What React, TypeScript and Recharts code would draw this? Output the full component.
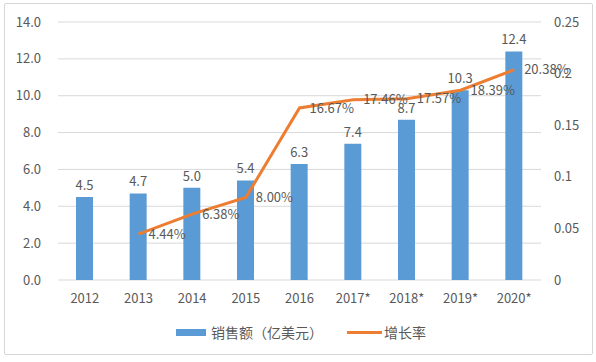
import React from 'react';
import { ComposedChart, Bar, Line, XAxis, YAxis, CartesianGrid, LabelList, Legend } from 'recharts';

const categories = ['2012', '2013', '2014', '2015', '2016', '2017*', '2018*', '2019*', '2020*'];
const sales = [4.5, 4.7, 5.0, 5.4, 6.3, 7.4, 8.7, 10.3, 12.4];
const growth: (number | null)[] = [null, 0.0444, 0.0638, 0.08, 0.1667, 0.1746, 0.1757, 0.1839, 0.2038];
const leftTicks = [0, 2, 4, 6, 8, 10, 12, 14];
const rightTicks = [0, 0.05, 0.1, 0.15, 0.2, 0.25];
const seriesNames = ['销售额（亿美元）', '增长率'];

const data = categories.map((c, i) => ({ year: c, sales: sales[i], growth: growth[i] }));

const BLUE = '#5B9BD5';
const ORANGE = '#ED7D31';
const TEXT = '#595959';

const LegendContent = () => (
  <div style={{ display: 'flex', justifyContent: 'center', alignItems: 'center', fontSize: 14, color: TEXT, paddingLeft: 6 }}>
    <div style={{ display: 'flex', alignItems: 'center', marginRight: 24 }}>
      <div style={{ width: 30, height: 7, background: BLUE, marginRight: 5 }} />
      <span>{seriesNames[0]}</span>
    </div>
    <div style={{ display: 'flex', alignItems: 'center' }}>
      <div style={{ width: 35, height: 3, background: ORANGE, marginRight: 2 }} />
      <span>{seriesNames[1]}</span>
    </div>
  </div>
);

export default function App() {
  return (
    <div style={{ position: 'absolute', left: 0, top: 0, width: 596, height: 362, background: '#fff', fontFamily: '"Noto Sans CJK SC", "Noto Sans", sans-serif' }}>
      <div style={{ position: 'absolute', left: 4, top: 3, width: 587, height: 350, border: '1px solid #d6d6d6', borderRadius: 2 }} />
      <ComposedChart width={596} height={362} data={data} margin={{ top: 22, right: 0, bottom: 52, left: 0 }}>
        <CartesianGrid yAxisId="left" vertical={false} stroke="#d9d9d9" strokeWidth={1} />
        <XAxis dataKey="year" axisLine={false} tickLine={false} interval={0} height={30} tickMargin={8} tick={{ fill: TEXT, fontSize: 13 }} />
        <YAxis yAxisId="left" width={58} domain={[0, 14]} ticks={leftTicks} axisLine={false} tickLine={false} tickMargin={11} tick={{ fill: TEXT, fontSize: 13 }} tickFormatter={(v: number) => v.toFixed(1)} />
        <YAxis yAxisId="right" orientation="right" width={55} domain={[0, 0.25]} ticks={rightTicks} axisLine={false} tickLine={false} tickMargin={7} tick={{ fill: TEXT, fontSize: 13 }} tickFormatter={(v: number) => String(v)} />
        <Bar yAxisId="left" dataKey="sales" fill={BLUE} barSize={17} isAnimationActive={false}>
          <LabelList dataKey="sales" position="top" offset={7} fill={TEXT} fontSize={13} formatter={(v: any) => (v == null ? '' : Number(v).toFixed(1))} />
        </Bar>
        <Line yAxisId="right" dataKey="growth" stroke={ORANGE} strokeWidth={3} dot={false} activeDot={false} isAnimationActive={false}>
          <LabelList dataKey="growth" position="right" offset={10} fill={TEXT} fontSize={13} formatter={(v: any) => (v == null ? '' : (Number(v) * 100).toFixed(2) + '%')} />
        </Line>
        <Legend verticalAlign="middle" layout="horizontal" content={<LegendContent />} wrapperStyle={{ top: 322, left: 0, width: 596, height: 22 }} />
      </ComposedChart>
    </div>
  );
}
